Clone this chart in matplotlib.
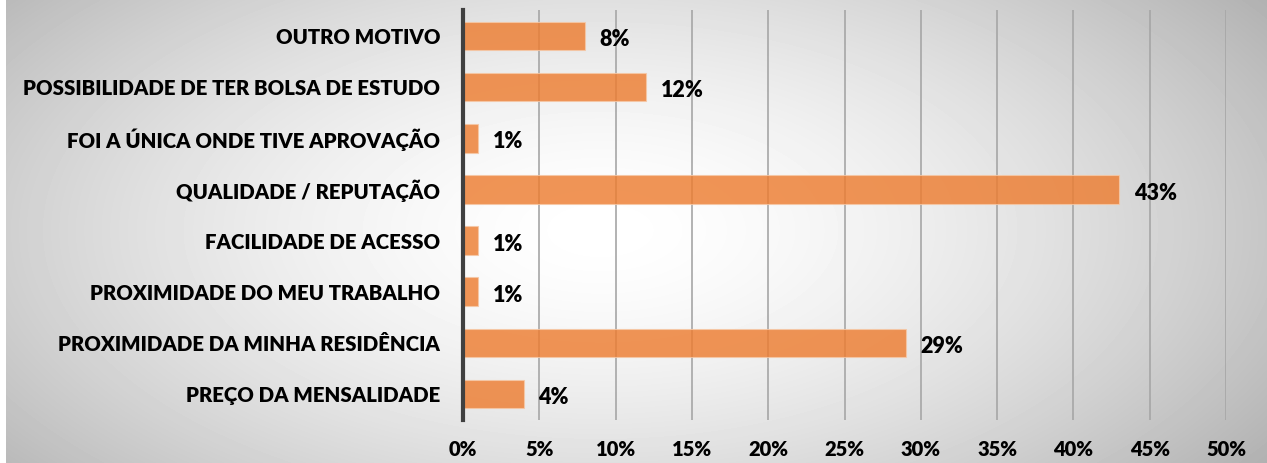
import numpy as np
import matplotlib
matplotlib.use("Agg")
import matplotlib.pyplot as plt
from matplotlib.ticker import FuncFormatter

# categories listed bottom to top, as they appear on the y axis
categories = [
    "PREÇO DA MENSALIDADE",
    "PROXIMIDADE DA MINHA RESIDÊNCIA",
    "PROXIMIDADE DO MEU TRABALHO",
    "FACILIDADE DE ACESSO",
    "QUALIDADE / REPUTAÇÃO",
    "FOI A ÚNICA ONDE TIVE APROVAÇÃO",
    "POSSIBILIDADE DE TER BOLSA DE ESTUDO",
    "OUTRO MOTIVO",
]
values = [4, 29, 1, 1, 43, 1, 12, 8]
xticks = [0, 5, 10, 15, 20, 25, 30, 35, 40, 45, 50]

plt.rcParams['font.family'] = ['Lato', 'DejaVu Sans']

W, H = 1267, 463
fig = plt.figure(figsize=(W / 100, H / 100), dpi=100)

# radial grey background
bg = fig.add_axes([0, 0, 1, 1])
yy, xx = np.mgrid[0:H, 0:W]
d = np.sqrt(((xx - 600) / 660.0) ** 2 + ((yy - 230) / 330.0) ** 2)
shade = 1 - 0.22 * np.clip(d, 0, 1.3) ** 1.6
shade[:, :6] = 1.0
bg.imshow(shade, cmap="gray", vmin=0, vmax=1, aspect="auto", interpolation="bilinear")
bg.axis("off")

ax = fig.add_axes([463 / W, 43.4 / H, (1226 - 463) / W, 409.2 / H])
ax.patch.set_alpha(0)

y = np.arange(len(categories))
ax.barh(y, values, height=0.56, color="#ED7D31", alpha=0.82,
        edgecolor="#f6c8a6", linewidth=0.8, zorder=3)

for yi, v in zip(y, values):
    ax.text(v + 0.95, yi - 0.07, f"{v}%", va="center", ha="left",
            fontsize=15.5, fontweight="heavy", color="black")

ax.set_xlim(0, 50)
ax.set_ylim(-0.5, len(categories) - 0.5)
ax.set_xticks(xticks)
ax.xaxis.set_major_formatter(FuncFormatter(lambda v, p: f"{v:.0f}%"))
ax.set_yticks(y)
ax.set_yticklabels(categories)
ax.grid(axis="x", color="#a6a6a6", linewidth=1.2, zorder=0)
ax.set_axisbelow(True)

for s in ["top", "right", "bottom"]:
    ax.spines[s].set_visible(False)
ax.spines["left"].set_color("#404040")
ax.spines["left"].set_linewidth(3)
ax.spines["left"].set_zorder(4)

ax.tick_params(axis="both", length=0)
ax.tick_params(axis="y", pad=16.5)
ax.tick_params(axis="x", pad=15)
for lab in ax.get_yticklabels():
    lab.set_fontweight("heavy")
    lab.set_fontsize(14.7)
for lab in ax.get_xticklabels():
    lab.set_fontweight("heavy")
    lab.set_fontsize(14.5)

fig.savefig("out.png", dpi=100)
